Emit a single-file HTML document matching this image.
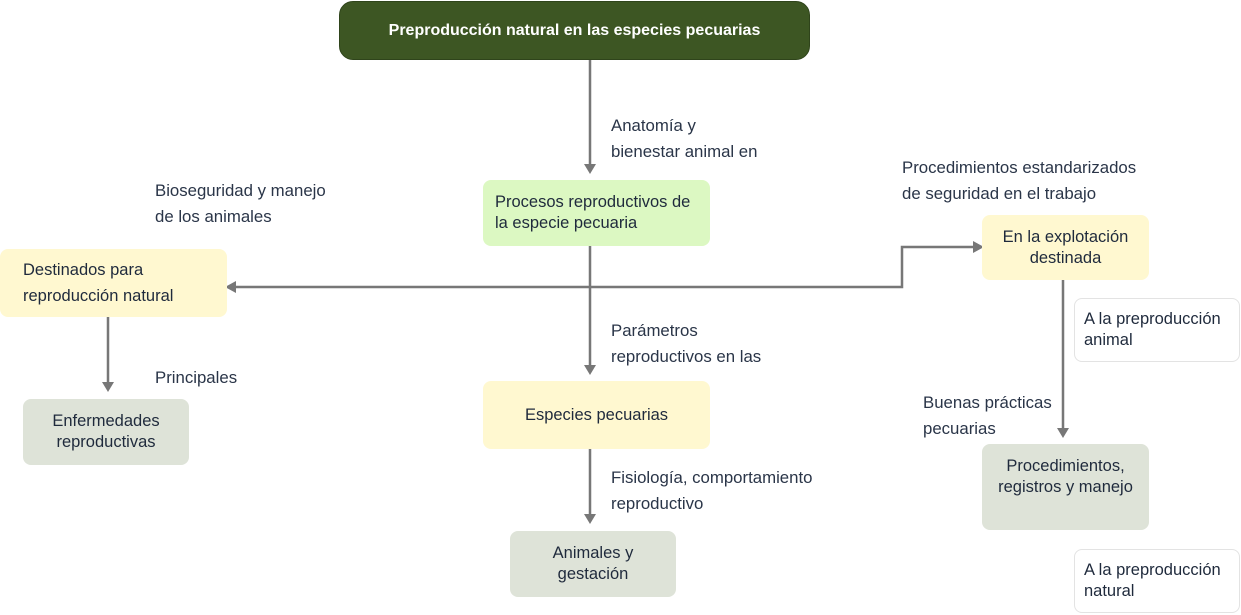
<!DOCTYPE html>
<html><head><meta charset="utf-8"><style>
body{margin:0;width:1241px;height:615px;background:#fff;position:relative;overflow:hidden;font-family:"Liberation Sans",Arial,sans-serif;color:#1f2a3c}
.b{position:absolute;box-sizing:border-box;border-radius:8px;display:flex;align-items:center;font-size:16.5px;line-height:21px}
.c{justify-content:center;text-align:center}
.l{position:absolute;font-size:16.8px;line-height:26px;color:#2a3548}
svg{position:absolute;left:0;top:0}
</style></head><body>
<svg width="1241" height="615">
<g stroke="#777" stroke-width="2.5" fill="none">
<line x1="590" y1="60" x2="590" y2="166"/>
<line x1="590" y1="246" x2="590" y2="367"/>
<line x1="590" y1="449" x2="590" y2="516"/>
<polyline points="236,287 902,287 902,247 974,247"/>
<line x1="108" y1="317" x2="108" y2="384"/>
<line x1="1063" y1="280" x2="1063" y2="430"/>
</g>
<g fill="#777">
<polygon points="584,164 596,164 590,174"/>
<polygon points="584,365 596,365 590,375"/>
<polygon points="584,514 596,514 590,524"/>
<polygon points="102,382 114,382 108,392"/>
<polygon points="1057,428 1069,428 1063,438"/>
<polygon points="225,287 236,281 236,293"/>
<polygon points="984,247 973,241 973,253"/>
</g>
</svg>
<div class="b c" style="left:339px;top:1px;width:471px;height:59px;background:#3d5623;border:1px solid #2f441b;border-radius:14px;color:#fff;font-weight:bold;font-size:16px">Preproducción natural en las especies pecuarias</div>
<div class="b" style="left:483px;top:180px;width:227px;height:66px;background:#dcf8c2;padding-left:12px">Procesos reproductivos de<br>la especie pecuaria</div>
<div class="b" style="left:0;top:249px;width:227px;height:68px;background:#fff8d0;padding-left:23px;line-height:26px">Destinados para<br>reproducción natural</div>
<div class="b c" style="left:23px;top:399px;width:166px;height:66px;background:#dee3d8">Enfermedades<br>reproductivas</div>
<div class="b c" style="left:483px;top:381px;width:227px;height:68px;background:#fff8d0">Especies pecuarias</div>
<div class="b c" style="left:510px;top:531px;width:166px;height:66px;background:#dee3d8">Animales y<br>gestación</div>
<div class="b c" style="left:982px;top:215px;width:167px;height:65px;background:#fff8d0">En la explotación<br>destinada</div>
<div class="b c" style="left:982px;top:444px;width:167px;height:86px;background:#dee3d8;align-items:flex-start;padding-top:12px">Procedimientos,<br>registros y manejo</div>
<div class="b" style="left:1074px;top:298px;width:166px;height:64px;background:#fff;border:1.5px solid #e3e3e3;padding-left:9px">A la preproducción<br>animal</div>
<div class="b" style="left:1074px;top:549px;width:166px;height:64px;background:#fff;border:1.5px solid #e3e3e3;padding-left:9px">A la preproducción<br>natural</div>
<div class="l" style="left:611px;top:113px">Anatomía y<br>bienestar animal en</div>
<div class="l" style="left:155px;top:178px">Bioseguridad y manejo<br>de los animales</div>
<div class="l" style="left:902px;top:155px">Procedimientos estandarizados<br>de seguridad en el trabajo</div>
<div class="l" style="left:611px;top:318px">Parámetros<br>reproductivos en las</div>
<div class="l" style="left:155px;top:365px">Principales</div>
<div class="l" style="left:923px;top:390px">Buenas prácticas<br>pecuarias</div>
<div class="l" style="left:611px;top:465px">Fisiología, comportamiento<br>reproductivo</div>
</body></html>
